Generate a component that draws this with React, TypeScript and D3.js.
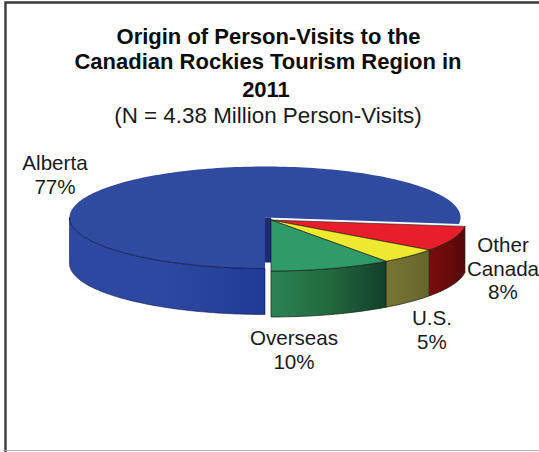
import React from "react";
import * as d3 from "d3";

const categories = ["Alberta", "Other Canada", "U.S.", "Overseas"];
const shares = [77, 8, 5, 10];
const titleLines = ["Origin of Person-Visits to the", "Canadian Rockies Tourism Region in", "2011"];
const subtitle = "(N = 4.38 Million Person-Visits)";

const topColors = ["#304a9f", "#e81f2b", "#efe92f", "#2f9b69"];
const wallStops = [
  ["#2e47a0", "#2e47a0", "#213a95"],
  ["#7a0c0c", "#6a0a0a", "#560808"],
  ["#777534", "#706e30", "#66642b"],
  ["#2b8356", "#22693f", "#123f2b"],
];

const W = 539;
const H = 452;
const RX = 195.5;
const RY = 51;
const DEPTH = 46;
const BLUE_C = { x: 265, y: 217.5 };
const REST_C = { x: 271, y: 220 };

const pie = d3
  .pie<number>()
  .sort(null)
  .startAngle(Math.PI)
  .endAngle(3 * Math.PI);
const slices = pie(shares);

// Projected point on the tilted disc; angle runs clockwise from north.
const px = (c: { x: number }, a: number) => c.x + RX * Math.sin(a);
const py = (c: { y: number }, a: number) => c.y - RY * Math.cos(a);
const line = d3.line<[number, number]>();

function sampleAngles(a0: number, a1: number) {
  const n = Math.max(2, Math.ceil(Math.abs(a1 - a0) * 40));
  return d3.range(n + 1).map((i) => a0 + ((a1 - a0) * i) / n);
}

function topPath(c: { x: number; y: number }, a0: number, a1: number) {
  const pts = sampleAngles(a0, a1).map((a) => [px(c, a), py(c, a)] as [number, number]);
  return line([[c.x, c.y], ...pts]) + "Z";
}

function wallPath(c: { x: number; y: number }, a0: number, a1: number) {
  const upper = sampleAngles(a0, a1).map((a) => [px(c, a), py(c, a)] as [number, number]);
  const lower = upper.map(([x, y]) => [x, y + DEPTH] as [number, number]).reverse();
  return line([...upper, ...lower]) + "Z";
}

const textFont = "'Liberation Sans', Arial, sans-serif";
const INK = "#1a1a1a";

function Label({ x, y, lines, step = 24 }: { x: number; y: number; lines: string[]; step?: number }) {
  return (
    <text x={x} y={y} textAnchor="middle" fontSize={20.6} fill={INK} fontFamily={textFont}>
      {lines.map((t, i) => (
        <tspan key={i} x={x} dy={i === 0 ? 0 : step}>
          {t}
        </tspan>
      ))}
    </text>
  );
}

export default function App() {
  const [alberta, otherCanada, us, overseas] = slices;
  // Alberta's visible wall runs along the front-left, from south to due west.
  const albertaWallEnd = (3 * Math.PI) / 2;
  const frontSlices = [otherCanada, us, overseas];

  return (
    <svg
      width={W}
      height={H}
      viewBox={`0 0 ${W} ${H}`}
      style={{ position: "fixed", left: 0, top: 0, display: "block", background: "#fff" }}
    >
      <defs>
        {wallStops.map((stops, i) => (
          <linearGradient key={i} id={`wall-${i}`} x1="0" x2="1" y1="0" y2="0">
            {stops.map((s, j) => (
              <stop key={j} offset={j / (stops.length - 1)} stopColor={s} />
            ))}
          </linearGradient>
        ))}
      </defs>

      <rect width={W} height={H} fill="#fff" />
      {/* Outer frame */}
      <path d={`M5.5 ${H}V2.5H${W}`} fill="none" stroke="#3a3a3a" strokeWidth={2.4} />
      <path d={`M5 ${H - 1.5}H${W}`} fill="none" stroke="#b5b5b5" strokeWidth={1} />

      {/* Title block */}
      <g textAnchor="middle" fontFamily={textFont} fill="#0c0c0c">
        {titleLines.map((t, i) => (
          <text key={i} x={[268.5, 268, 266][i]} y={[44, 69, 97][i]} fontSize={22} fontWeight="bold">
            {t}
          </text>
        ))}
        <text x={268} y={123} fontSize={22.4} fill={INK}>
          {subtitle}
        </text>
      </g>

      {/* Alberta slice */}
      <path
        d={wallPath(BLUE_C, alberta.startAngle, albertaWallEnd)}
        fill="url(#wall-0)"
        stroke="#101a50"
        strokeWidth={0.6}
      />
      <path d={topPath(BLUE_C, alberta.startAngle, alberta.endAngle)} fill={topColors[0]} />
      <path
        d={line(
          sampleAngles(alberta.startAngle, albertaWallEnd).map(
            (a) => [px(BLUE_C, a), py(BLUE_C, a)] as [number, number]
          )
        )!}
        fill="none"
        stroke="#131d55"
        strokeWidth={0.8}
      />
      <rect
        x={BLUE_C.x}
        y={BLUE_C.y}
        width={REST_C.x - BLUE_C.x}
        height={DEPTH - 1}
        fill="#1f2a72"
      />

      {/* Exploded slices: walls first, then the top faces */}
      {frontSlices.map((s) => (
        <path
          key={`w${s.index}`}
          d={wallPath(REST_C, s.startAngle, s.endAngle)}
          fill={`url(#wall-${s.index})`}
          stroke="#1c1c10"
          strokeWidth={0.7}
        />
      ))}
      {frontSlices.map((s) => (
        <path
          key={`t${s.index}`}
          d={topPath(REST_C, s.startAngle, s.endAngle)}
          fill={topColors[s.index]}
          stroke="#15150f"
          strokeWidth={0.6}
        />
      ))}

      {/* Category labels */}
      <Label x={55} y={170} lines={[categories[0], `${shares[0]}%`]} />
      <Label x={503} y={252} step={23.5} lines={["Other", "Canada", `${shares[1]}%`]} />
      <Label x={432} y={325} lines={[categories[2], `${shares[2]}%`]} />
      <Label x={294} y={345} lines={[categories[3], `${shares[3]}%`]} />
    </svg>
  );
}
